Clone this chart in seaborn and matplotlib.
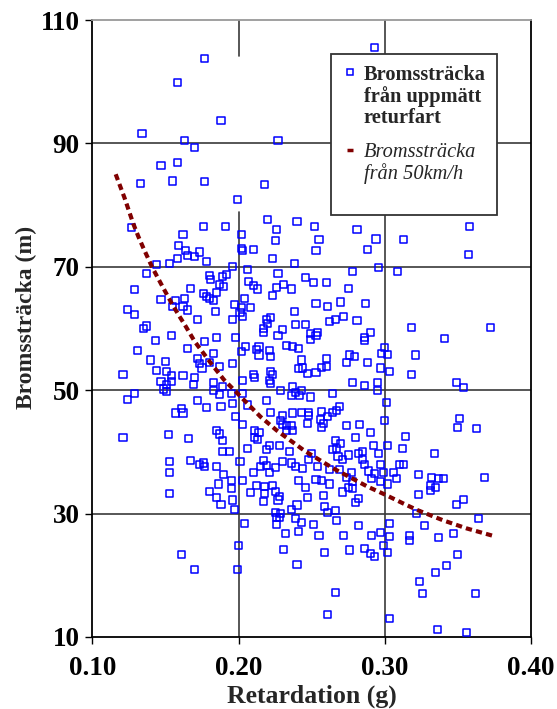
import matplotlib
matplotlib.use("Agg")
import matplotlib.pyplot as plt
from matplotlib.lines import Line2D
import seaborn as sns
import pandas as pd

# ---- data ----
retardation = [
    0.177, 0.158, 0.188, 0.134, 0.163, 0.227, 0.170, 0.147, 0.158, 0.133, 0.155, 0.177, 0.218,
    0.293,
    0.199, 0.220, 0.240, 0.176, 0.191, 0.226, 0.127, 0.162, 0.202, 0.225, 0.159, 0.164, 0.173,
    0.165, 0.170, 0.158, 0.202, 0.203, 0.210, 0.178, 0.153, 0.144, 0.223, 0.238, 0.137, 0.196,
    0.206, 0.227, 0.246, 0.129, 0.167, 0.180, 0.181, 0.189, 0.192, 0.187, 0.190, 0.185, 0.207,
    0.210, 0.213, 0.226, 0.231, 0.236, 0.223, 0.176, 0.178, 0.180, 0.183, 0.147, 0.157, 0.163,
    0.204, 0.155, 0.162, 0.165, 0.197, 0.202, 0.208, 0.124, 0.129, 0.184, 0.201, 0.203, 0.238,
    0.196, 0.172, 0.137, 0.135, 0.219, 0.222, 0.220, 0.217, 0.217, 0.230, 0.239, 0.246, 0.154,
    0.198, 0.185, 0.143, 0.177, 0.227,
    0.252, 0.281, 0.358, 0.255, 0.294, 0.313, 0.253, 0.288, 0.357, 0.278, 0.296, 0.309, 0.251,
    0.260, 0.275, 0.253, 0.261, 0.270, 0.287, 0.262, 0.266, 0.272, 0.281, 0.249, 0.254, 0.253,
    0.249, 0.290, 0.286, 0.286, 0.318, 0.341, 0.372,
    0.165, 0.131, 0.140, 0.150, 0.172, 0.183, 0.173, 0.175, 0.180, 0.187, 0.196, 0.202, 0.205,
    0.212, 0.214, 0.214, 0.221, 0.222, 0.233, 0.237, 0.241, 0.243, 0.241, 0.244, 0.121, 0.144,
    0.151, 0.154, 0.162, 0.170, 0.147, 0.151, 0.154, 0.149, 0.151, 0.169, 0.183, 0.183, 0.189,
    0.187, 0.195, 0.196, 0.203, 0.203, 0.210, 0.211, 0.221, 0.222, 0.223, 0.222, 0.229, 0.237,
    0.239, 0.243, 0.236, 0.242, 0.129, 0.124, 0.172, 0.178, 0.188, 0.161, 0.157, 0.162, 0.206,
    0.219, 0.198, 0.222, 0.230, 0.237, 0.243, 0.229, 0.203, 0.230, 0.233, 0.236, 0.237, 0.233,
    0.121, 0.152, 0.166, 0.185, 0.187, 0.189, 0.211, 0.214, 0.211, 0.213, 0.221, 0.219, 0.228,
    0.235, 0.206, 0.189, 0.194, 0.153, 0.167, 0.173, 0.176, 0.177, 0.185, 0.201, 0.217, 0.215,
    0.219, 0.225, 0.230, 0.236, 0.239, 0.244, 0.153, 0.190, 0.210, 0.221, 0.203, 0.195, 0.186,
    0.212, 0.218, 0.223, 0.241, 0.195, 0.153, 0.180, 0.208, 0.218, 0.225, 0.228, 0.185, 0.196,
    0.217, 0.227, 0.188,
    0.300, 0.298, 0.302, 0.276, 0.279, 0.260, 0.274, 0.288, 0.321, 0.247, 0.253, 0.257, 0.260,
    0.297, 0.303, 0.318, 0.278, 0.286, 0.295, 0.295, 0.349, 0.354, 0.264, 0.249, 0.301, 0.269,
    0.267, 0.264, 0.257, 0.248, 0.248, 0.261, 0.256, 0.258, 0.257, 0.247, 0.274, 0.283, 0.300,
    0.351, 0.350, 0.363, 0.290, 0.280, 0.314, 0.266, 0.270, 0.264, 0.267, 0.292, 0.302, 0.312,
    0.285, 0.282, 0.296, 0.334, 0.250, 0.248, 0.268, 0.271, 0.275, 0.285, 0.286, 0.297, 0.310,
    0.313, 0.254, 0.262, 0.269, 0.277, 0.289, 0.293, 0.299, 0.306, 0.308, 0.323, 0.332, 0.337,
    0.340, 0.368, 0.253, 0.257, 0.262, 0.274, 0.278, 0.291, 0.297, 0.302, 0.246, 0.275, 0.278,
    0.331, 0.335, 0.331, 0.271, 0.323, 0.258, 0.247, 0.282, 0.280, 0.354, 0.349,
    0.197, 0.240, 0.236, 0.225, 0.229, 0.226, 0.228, 0.239, 0.243, 0.226, 0.204, 0.232, 0.241,
    0.200, 0.231, 0.161, 0.240, 0.170, 0.199,
    0.259, 0.261, 0.266, 0.322, 0.364, 0.251, 0.267, 0.282, 0.303, 0.327, 0.255, 0.272, 0.291,
    0.297, 0.303, 0.317, 0.317, 0.337, 0.347, 0.299, 0.259, 0.276, 0.286, 0.290, 0.293, 0.302,
    0.350, 0.342, 0.335, 0.324, 0.266, 0.326, 0.362, 0.261, 0.303, 0.336, 0.356,
]
bromsstracka = [
    103.8, 99.8, 93.7, 91.6, 90.4, 90.4, 89.3, 86.4, 86.9, 83.5, 83.9, 83.8, 83.4,
    105.6,
    80.9, 77.6, 77.3, 76.6, 76.6, 76.1, 76.4, 75.2, 75.2, 74.3, 73.5, 72.7, 72.4,
    71.8, 71.7, 71.4, 72.9, 72.6, 72.8, 70.8, 70.5, 70.3, 71.3, 70.6, 68.9, 70.1,
    69.5, 68.9, 68.2, 66.3, 66.5, 68.6, 68.0, 68.5, 68.8, 67.1, 66.8, 65.9, 67.6,
    66.9, 66.4, 66.6, 67.2, 66.4, 65.3, 65.6, 65.2, 64.9, 64.6, 64.7, 64.5, 64.8,
    64.9, 63.6, 63.5, 63.0, 63.9, 63.4, 63.4, 63.1, 62.2, 62.8, 62.6, 61.9, 62.8,
    61.4, 61.4, 60.4, 60.0, 61.4, 61.8, 60.8, 60.0, 59.3, 59.9, 60.6, 60.7, 58.9,
    58.6, 58.5, 58.0, 57.9, 58.8,
    76.5, 76.0, 76.5, 74.4, 74.5, 74.4, 72.7, 72.8, 72.0, 69.3, 69.9, 69.3, 67.4,
    67.4, 66.5, 64.1, 63.5, 64.3, 64.1, 61.1, 61.4, 61.9, 61.3, 59.2, 59.4, 58.8,
    58.2, 59.4, 58.6, 58.0, 60.1, 58.4, 60.1,
    56.7, 56.4, 54.9, 54.7, 55.2, 56.0, 54.4, 53.6, 54.5, 53.9, 54.3, 56.2, 57.1,
    56.6, 57.1, 55.7, 56.5, 55.5, 57.3, 57.1, 56.7, 54.9, 53.5, 53.6, 52.5, 53.2,
    53.1, 52.4, 52.4, 52.0, 51.4, 50.9, 51.4, 50.2, 49.8, 50.9, 51.3, 50.0, 50.6,
    49.3, 49.4, 47.9, 49.5, 51.5, 52.5, 52.0, 51.5, 53.0, 52.6, 51.1, 49.9, 50.6,
    49.7, 49.9, 49.1, 49.1, 49.5, 48.5, 48.3, 47.2, 47.4, 47.1, 46.3, 46.3, 47.6,
    48.4, 45.8, 46.4, 45.9, 46.3, 46.4, 45.1, 44.5, 44.4, 44.3, 44.3, 43.5, 43.5,
    42.3, 42.8, 42.1, 43.5, 42.9, 41.9, 43.4, 43.2, 42.4, 42.0, 41.0, 40.4, 41.1,
    40.1, 40.6, 40.1, 40.0, 38.4, 38.6, 37.9, 38.2, 37.7, 37.7, 38.4, 38.6, 37.7,
    37.8, 37.4, 38.4, 38.2, 37.7, 37.3, 36.6, 36.4, 36.7, 36.7, 35.3, 35.4, 34.8,
    34.6, 34.4, 34.6, 35.3, 34.0, 33.3, 33.6, 33.4, 33.3, 33.6, 32.8, 32.6, 32.2,
    31.9, 32.2, 31.5,
    56.9, 55.9, 55.8, 55.7, 55.4, 55.2, 54.5, 54.5, 55.7, 52.7, 52.9, 53.7, 53.9,
    53.6, 53.0, 52.6, 51.3, 50.8, 51.2, 49.9, 51.2, 50.4, 49.4, 48.9, 48.0, 47.3,
    46.7, 46.4, 46.5, 46.4, 45.9, 45.8, 45.2, 44.6, 44.0, 44.6, 44.3, 44.5, 45.1,
    45.4, 43.9, 43.8, 43.2, 42.3, 42.5, 41.9, 41.3, 40.4, 40.6, 41.0, 41.0, 40.6,
    40.1, 39.7, 39.8, 39.8, 39.7, 38.8, 39.2, 38.8, 39.5, 38.8, 38.0, 38.0, 37.9,
    38.0, 37.6, 37.1, 37.1, 36.7, 36.9, 36.5, 36.6, 36.6, 35.7, 36.3, 35.8, 35.7,
    35.7, 35.8, 35.6, 35.4, 34.8, 35.8, 35.2, 35.7, 35.2, 34.8, 34.3, 34.2, 34.1,
    34.5, 34.3, 33.7, 33.5, 33.1, 33.0, 32.6, 32.4, 31.8, 32.3, 31.5,
    30.6, 31.4, 30.6, 30.2, 30.0, 29.3, 29.4, 29.2, 28.6, 28.2, 28.4, 26.8, 27.1,
    24.9, 24.2, 23.3, 21.8, 20.9, 20.9,
    31.1, 30.2, 30.5, 30.0, 29.2, 28.2, 28.9, 28.0, 28.4, 28.0, 26.5, 26.5, 26.4,
    27.0, 26.3, 26.4, 25.6, 26.2, 26.8, 24.9, 23.7, 24.1, 24.3, 23.6, 23.1, 23.7,
    23.3, 21.6, 20.4, 19.0, 17.2, 17.0, 17.0, 13.7, 13.0, 11.2, 10.8,
]

curve_retardation = [0.116, 0.119, 0.122, 0.125, 0.128, 0.1315, 0.135, 0.141, 0.148, 0.154,
                     0.159, 0.164, 0.170, 0.181, 0.190, 0.200, 0.215, 0.226, 0.245, 0.265,
                     0.288, 0.300, 0.313, 0.322, 0.340, 0.356, 0.374]
curve_bromsstracka = [85.0, 83.1, 81.2, 79.1, 77.0, 74.9, 73.0, 69.9, 66.8, 64.2,
                      62.2, 60.3, 57.9, 54.4, 51.7, 49.3, 45.7, 43.5, 40.2, 37.3,
                      34.4, 33.1, 31.6, 30.6, 28.9, 27.6, 26.4]

x_ticks = [0.10, 0.20, 0.30, 0.40]
y_ticks = [10, 30, 50, 70, 90, 110]
label_measured = "Bromssträcka\nfrån uppmätt\nreturfart"
label_curve = "Bromssträcka\nfrån 50km/h"

# ---- style ----
sns.set_style("white")
serif = ["Liberation Serif", "DejaVu Serif"]
plt.rcParams["font.family"] = serif

W, H = 557, 709
fig = plt.figure(figsize=(W / 100, H / 100), dpi=100)
L, R, T, B = 92.3, 531.0, 20.0, 637.0
ax = fig.add_axes([L / W, 1 - B / H, (R - L) / W, (B - T) / H])

grid_c = "#3a3a3a"
for yv in [30, 50, 70, 90]:
    ax.axhline(yv, color=grid_c, lw=1.2, zorder=0.5)
ax.axvline(0.30, color=grid_c, lw=1.2, zorder=0.5)
ax.axvline(0.20, ymin=(104.2 - 10) / 100, ymax=1, color=grid_c, lw=1.2, zorder=0.5)
ax.axvline(0.20, ymin=0, ymax=(78.9 - 10) / 100, color=grid_c, lw=1.2, zorder=0.5)

df = pd.DataFrame({"Retardation": retardation, "Bromssträcka": bromsstracka})
sns.scatterplot(data=df, x="Retardation", y="Bromssträcka", marker="s", s=26,
                linewidth=1.1, ax=ax, zorder=3, legend=False)
coll = ax.collections[-1]
coll.set_facecolor("none")
coll.set_edgecolor("#0000FF")

cdf = pd.DataFrame({"x": curve_retardation, "y": curve_bromsstracka})
sns.lineplot(data=cdf, x="x", y="y", sort=False, estimator=None, ax=ax,
             color="#800000", linewidth=3.0, linestyle=(0, (1.5, 1.0)), zorder=4)

ax.set_xlim(0.10, 0.40)
ax.set_ylim(10, 110)
ax.set_xticks(x_ticks)
ax.set_xticklabels([f"{v:.2f}" for v in x_ticks])
ax.set_yticks(y_ticks)
ax.set_yticklabels([str(v) for v in y_ticks])
ax.tick_params(axis="both", direction="out", length=5, width=1, colors="black",
               labelsize=19.5)
ax.tick_params(axis="x", pad=9)
ax.tick_params(axis="y", pad=4)
ax.tick_params(left=True, bottom=True)
for t in ax.get_xticklabels() + ax.get_yticklabels():
    t.set_fontweight("bold")

for side in ["left", "bottom", "right"]:
    ax.spines[side].set_color("black")
    ax.spines[side].set_linewidth(1.3)
ax.spines["top"].set_color("#999999")
ax.spines["top"].set_linewidth(1.3)

ax.set_xlabel("Retardation (g)", fontsize=18.5, fontweight="bold")
ax.set_ylabel("Bromssträcka (m)", fontsize=17, fontweight="bold")
ax.xaxis.set_label_coords(0.5, -0.0775)
ax.yaxis.set_label_coords(-0.127, 0.518)

handles = [
    Line2D([], [], linestyle="none", marker="s", markersize=5.0, markerfacecolor="none",
           markeredgecolor="#0000FF", markeredgewidth=1.1),
    Line2D([], [], linestyle="none", marker="_", markersize=4.5, markeredgecolor="#800000",
           markeredgewidth=2.5),
]
leg = ax.legend(handles, [label_measured, label_curve + "\n"], loc="upper left",
                bbox_to_anchor=(0.544, 0.945), borderaxespad=0, frameon=True,
                fancybox=False, framealpha=1, edgecolor="#333333", fontsize=14.7,
                handlelength=0.8, handletextpad=0.25, labelspacing=0.75,
                borderpad=0.55)
leg.get_frame().set_linewidth(1.3)
leg.set_zorder(10)
for t in leg.get_texts():
    t.set_linespacing(1.05)
leg.get_texts()[0].set_fontweight("bold")
leg.get_texts()[1].set_fontstyle("italic")
for col in leg._legend_handle_box.get_children():
    for item in col.get_children():
        item.align = "top"

fig.savefig("out.png", dpi=100)
